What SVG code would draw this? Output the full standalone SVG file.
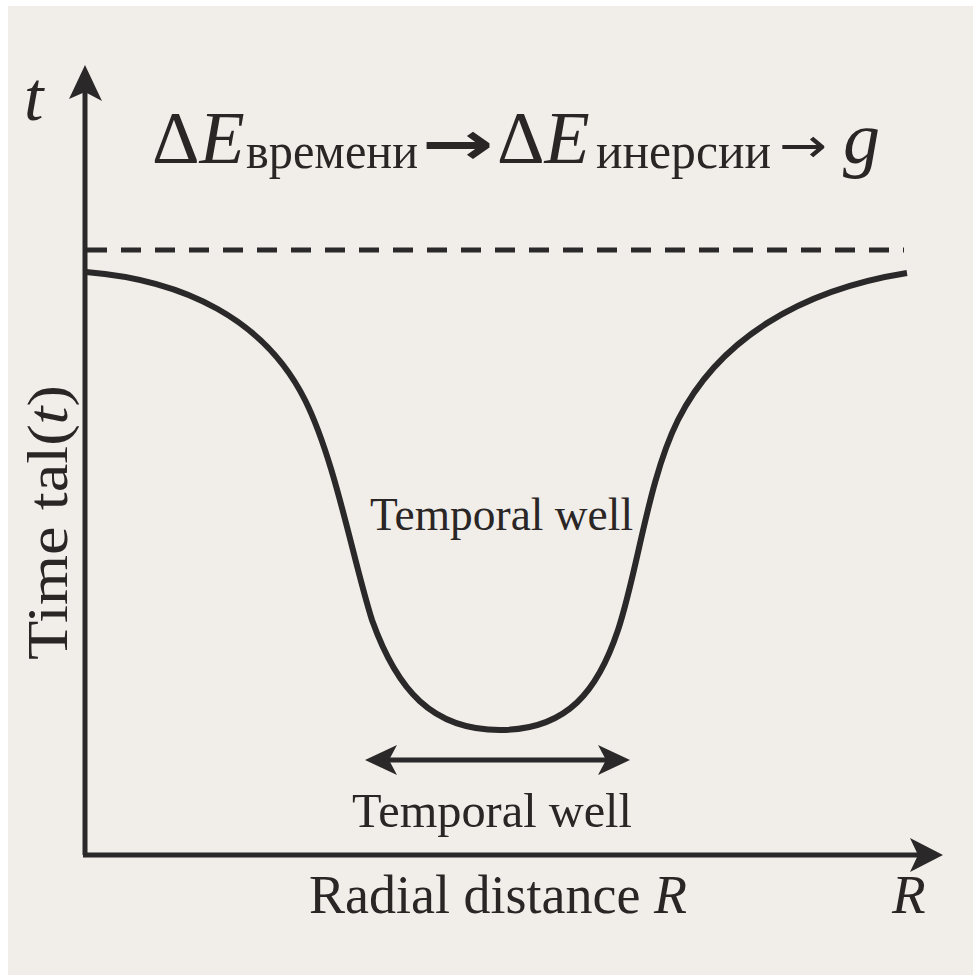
<svg xmlns="http://www.w3.org/2000/svg" width="973" height="975" viewBox="0 0 973 975">
  <style>
    .serif { font-family: "Liberation Serif", "DejaVu Serif", serif; fill: #2a2626; }
    .it { font-style: italic; }
    .axis { stroke: #2a2828; stroke-width: 5; fill: none; }
    .head { fill: #2a2828; stroke: none; }
  </style>
  <rect x="0" y="0" width="973" height="975" fill="#ffffff"/>
  <rect x="8" y="6" width="965" height="969" fill="#f1eeea"/>

  <g id="title">
    <text class="serif" x="152" y="163" font-size="74">Δ<tspan class="it">E</tspan></text>
    <text class="serif" x="246" y="168" font-size="50" textLength="172" lengthAdjust="spacingAndGlyphs">времени</text>
    <text x="422" y="164" font-size="60" font-weight="bold" font-family="DejaVu Sans, sans-serif" fill="#2a2626" textLength="72" lengthAdjust="spacingAndGlyphs">→</text>
    <text class="serif" x="497" y="163" font-size="74">Δ<tspan class="it">E</tspan></text>
    <text class="serif" x="596" y="168" font-size="50" textLength="175" lengthAdjust="spacingAndGlyphs">инерсии</text>
    <text x="779" y="162" font-size="48" font-family="DejaVu Sans, sans-serif" fill="#2a2626" textLength="48" lengthAdjust="spacingAndGlyphs">→</text>
    <text class="serif it" x="843" y="163" font-size="74">g</text>
  </g>

  <g id="axes">
    <line class="axis" x1="85" y1="90" x2="85" y2="855"/>
    <path class="head" d="M85,65 L102,101 L85,92 L69,99 Z"/>
    <line class="axis" x1="83" y1="855" x2="925" y2="855"/>
    <path class="head" d="M943,855 L910,838 L918,855 L910,872 Z"/>
  </g>

  <g id="axis-labels">
    <text class="serif it" x="24" y="120" font-size="70">t</text>
    <text class="serif" transform="translate(67,660) rotate(-90)" x="0" y="0" font-size="56" textLength="275" lengthAdjust="spacingAndGlyphs">Time tal(<tspan class="it">t</tspan>)</text>
    <text class="serif" x="309" y="913" font-size="54">Radial distance <tspan class="it">R</tspan></text>
    <text class="serif it" x="892" y="913" font-size="55">R</text>
  </g>

  <g id="reference-line">
    <line x1="87" y1="250" x2="904" y2="250" stroke="#2a2828" stroke-width="5" stroke-dasharray="20 14"/>
  </g>

  <g id="curve">
    <path d="M86,272 C185,280 265,320 305,400 C335,460 353,560 372,620 C397,690 432,730 500,730 C568,730 598,690 618,630 C638,570 648,480 678,420 C718,340 800,290 907,273" fill="none" stroke="#2a2828" stroke-width="6" stroke-linecap="butt"/>
  </g>

  <g id="well-label">
    <text class="serif" x="370" y="530" font-size="46" textLength="263" lengthAdjust="spacingAndGlyphs">Temporal well</text>
  </g>

  <g id="connectors">
    <line x1="385" y1="760" x2="612" y2="760" stroke="#2a2828" stroke-width="5"/>
    <path class="head" d="M365,760 L397,745 L389,760 L397,775 Z"/>
    <path class="head" d="M630,760 L598,745 L606,760 L598,775 Z"/>
  </g>

  <g id="width-label">
    <text class="serif" x="352" y="827" font-size="49" textLength="280" lengthAdjust="spacingAndGlyphs">Temporal well</text>
  </g>
</svg>
